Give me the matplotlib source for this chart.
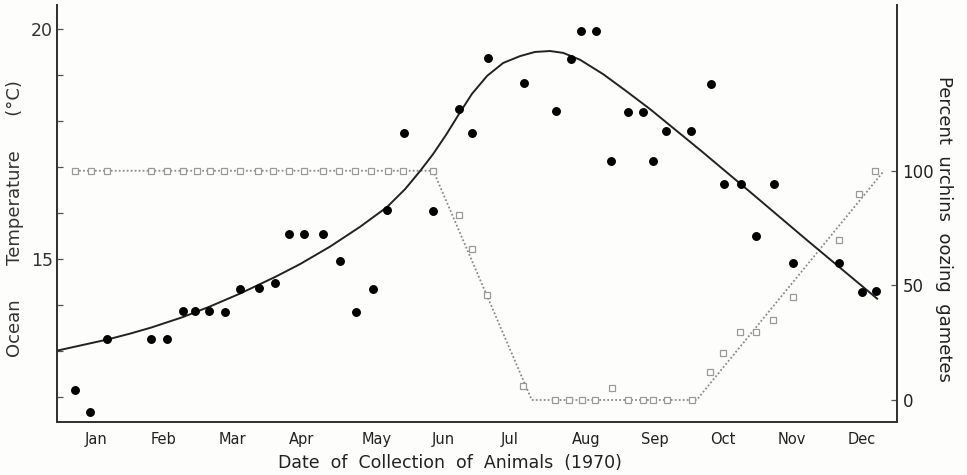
import matplotlib
matplotlib.use("Agg")
import matplotlib.pyplot as plt
from matplotlib.ticker import FixedLocator

# ---------------- data (x = day of year 1970) ----------------
months = ["Jan", "Feb", "Mar", "Apr", "May", "Jun", "Jul", "Aug", "Sep", "Oct", "Nov", "Dec"]
month_day = [15.0, 44.7, 74.8, 104.9, 137.7, 166.6, 195.8, 229.0, 259.1, 288.8, 318.9, 349.5]

# ocean temperature observations (filled dots)
temp_day = [6.0, 12.5, 19.8, 39.0, 46.2, 53.1, 58.1, 64.2, 71.5, 78.0, 86.2, 93.2,
            99.3, 106.0, 114.1, 121.4, 128.4, 135.9, 142.2, 149.7, 162.3, 173.5, 179.3,
            186.1, 202.1, 216.0, 222.3, 226.8, 233.5, 240.0, 247.3, 253.9, 258.4, 263.9,
            275.0, 283.6, 289.4, 296.7, 303.4, 311.0, 319.4, 339.5, 349.7, 355.5]
temp_c = [12.15, 11.67, 13.26, 13.26, 13.26, 13.87, 13.87, 13.87, 13.84, 14.34, 14.37, 14.47,
          15.54, 15.54, 15.55, 14.96, 13.85, 14.36, 16.06, 17.74, 16.05, 18.25, 17.73,
          19.37, 18.82, 18.22, 19.34, 19.96, 19.96, 17.12, 18.20, 18.20, 17.12, 17.78,
          17.78, 18.81, 16.63, 16.63, 15.51, 16.63, 14.91, 14.92, 14.28, 14.30]

# fitted temperature curve (solid line)
curve_day = [-2.0, 8.0, 19.8, 29.9, 39.0, 53.0, 64.8, 77.9, 93.2, 104.1, 117.2, 130.3,
             142.1, 150.0, 156.5, 162.2, 167.9, 173.5, 179.2, 185.8, 192.8, 200.2,
             206.7, 213.3, 219.0, 226.4, 236.4, 246.0, 256.9, 278.8, 300.6, 325.5, 356.1]
curve_c = [13.01, 13.12, 13.25, 13.38, 13.51, 13.74, 13.97, 14.25, 14.61, 14.89, 15.27, 15.70,
           16.13, 16.52, 16.91, 17.28, 17.70, 18.15, 18.59, 18.98, 19.26, 19.41,
           19.50, 19.52, 19.48, 19.33, 19.02, 18.67, 18.26, 17.37, 16.46, 15.41, 14.14]

# percent urchins oozing gametes (open squares)
pct_day = [5.9, 12.7, 20.0, 39.0, 46.2, 52.9, 59.0, 64.8, 70.9, 77.8, 85.9, 92.4, 99.2,
           105.9, 114.3, 121.1, 128.1, 135.1, 142.4, 149.2, 162.3, 173.6, 179.3, 185.6,
           201.6, 215.5, 221.7, 227.1, 232.9, 240.2, 247.3, 253.9, 258.4, 264.2, 275.2,
           283.1, 288.9, 296.2, 303.2, 310.5, 319.2, 339.6, 348.2, 355.3]
pct_val = [100, 100, 100, 100, 100, 100, 100, 100, 100, 100, 100, 100, 100,
           100, 100, 100, 100, 100, 100, 100, 100, 80.7, 65.9, 45.8,
           5.9, 0, 0, 0, 0, 5.1, 0, 0, 0, 0, 0,
           12.3, 20.4, 29.8, 29.8, 34.9, 45.0, 69.8, 89.8, 100]

# dotted trend for percent
trend_day = [5.9, 162.3, 205.3, 277.3, 359.1]
trend_pct = [100, 100, 0, 0, 100]

# ---------------- figure ----------------
plt.rcParams['font.family'] = ['DejaVu Sans']
fig = plt.figure(figsize=(9.67, 4.75), dpi=100, facecolor="#fdfdfb")
ax = fig.add_axes([0.05895, 0.11158, 0.8687, 0.87789])
ax.set_facecolor("none")
ax2 = ax.twinx()
ax2.set_position(ax.get_position())

ink = "#222222"
grey = "#8a8a8a"

# percent series on right axis
ax2.plot(trend_day, trend_pct, linestyle=(0, (1, 1.2)), color=grey, lw=1.3, zorder=2)
ax2.plot(pct_day, pct_val, linestyle="none", marker="s", markersize=5,
         markerfacecolor="white", markeredgecolor="#999999", markeredgewidth=0.9, zorder=3)

# temperature on left axis
ax.set_zorder(ax2.get_zorder() + 1)
ax.plot(curve_day, curve_c, color=ink, lw=1.4, zorder=4, solid_joinstyle="round")
ax.plot(temp_day, temp_c, linestyle="none", marker="o", markersize=5.4,
        color="black", zorder=5)

ax.set_xlim(-2.0, 364.8)
ax.set_ylim(11.46, 20.52)
ax2.set_ylim(-9.6, 172.3)

for a in (ax, ax2):
    a.spines['top'].set_visible(False)
    for s in ('left', 'right', 'bottom'):
        a.spines[s].set_color("#333333")
        a.spines[s].set_linewidth(1.3)

# x ticks: month labels, no marks
ax.set_xticks(month_day)
ax.set_xticklabels(months, fontsize=10.5, color=ink)
ax.tick_params(axis='x', length=0, pad=7)

# left y ticks
ax.yaxis.set_major_locator(FixedLocator([15, 20]))
ax.yaxis.set_minor_locator(FixedLocator([12, 13, 14, 16, 17, 18, 19]))
ax.tick_params(axis='y', which='both', direction='in', length=4.5, width=0.9,
               color="#555555", labelsize=12.5, labelcolor="#333333", pad=3)

# right y ticks
ax2.yaxis.set_major_locator(FixedLocator([0, 50, 100]))
ax2.tick_params(axis='y', which='both', direction='in', length=4.5, width=0.9,
                color="#555555", labelsize=12, labelcolor=ink, pad=4)

fig.text(0.4648, 0.025, "Date  of  Collection  of  Animals  (1970)", ha="center",
         va="center", fontsize=12.5, color=ink)
fig.text(0.0155, 0.54, "Ocean      Temperature      (°C)", rotation=90, ha="center",
         va="center", fontsize=13, color="#333333")
fig.text(0.976, 0.518, "Percent  urchins  oozing  gametes", rotation=-90, ha="center",
         va="center", fontsize=13, color=ink)

fig.savefig("out.png", dpi=100, facecolor=fig.get_facecolor())
